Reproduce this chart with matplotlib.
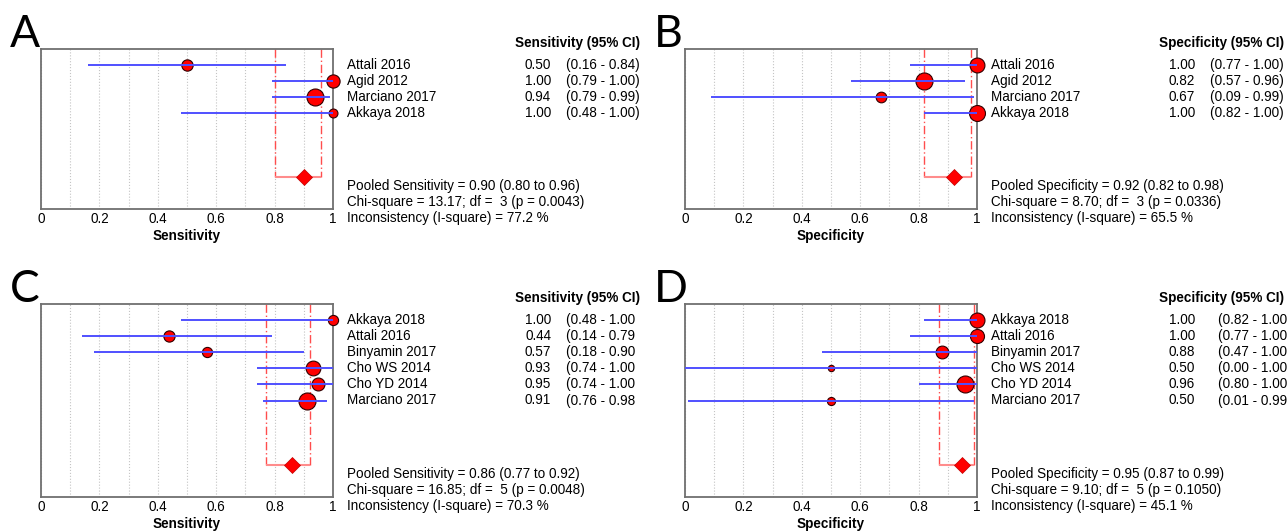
import numpy as np
import matplotlib
matplotlib.use('Agg')
import matplotlib.pyplot as plt
from matplotlib.transforms import Bbox, TransformedBbox

plt.rcParams['font.family'] = 'Liberation Sans'

W, H = 1287, 531

# A: sensitivity, B: specificity (4 studies)
ab_studies = ['Attali 2016', 'Agid 2012', 'Marciano 2017', 'Akkaya 2018']
a_est = [0.50, 1.00, 0.94, 1.00]
a_lo = [0.16, 0.79, 0.79, 0.48]
a_hi = [0.84, 1.00, 0.99, 1.00]
a_weight = [19.1, 26.0, 43.0, 11.9]
a_pooled = [0.90, 0.80, 0.96]
a_stats = ['13.17', 3, '0.0043', '77.2']

b_est = [1.00, 0.82, 0.67, 1.00]
b_lo = [0.77, 0.57, 0.09, 0.82]
b_hi = [1.00, 0.96, 0.99, 1.00]
b_weight = [25.2, 32.9, 12.9, 29.0]
b_pooled = [0.92, 0.82, 0.98]
b_stats = ['8.70', 3, '0.0336', '65.5']

# C: sensitivity, D: specificity (6 studies)
cd_studies = ['Akkaya 2018', 'Attali 2016', 'Binyamin 2017', 'Cho WS 2014',
              'Cho YD 2014', 'Marciano 2017']
c_est = [1.00, 0.44, 0.57, 0.93, 0.95, 0.91]
c_lo = [0.48, 0.14, 0.18, 0.74, 0.74, 0.76]
c_hi = [1.00, 0.79, 0.90, 1.00, 1.00, 0.98]
c_weight = [10.3, 12.5, 10.3, 21.6, 16.6, 28.7]
c_pooled = [0.86, 0.77, 0.92]
c_stats = ['16.85', 5, '0.0048', '70.3']

d_est = [1.00, 1.00, 0.88, 0.50, 0.96, 0.50]
d_lo = [0.82, 0.77, 0.47, 0.00, 0.80, 0.01]
d_hi = [1.00, 1.00, 1.00, 1.00, 1.00, 0.99]
d_weight = [22.8, 20.1, 16.7, 4.1, 29.5, 6.7]
d_pooled = [0.95, 0.87, 0.99]
d_stats = ['9.10', 5, '0.1050', '45.1']

FS = 9.75


def draw_panel(fig, rect, letter, measure, studies, est, lo, hi, weight,
               pooled, stats, shift, clip_px=None):
    left, top, right, bottom = rect
    ax = fig.add_axes([left / W, 1 - bottom / H, (right - left) / W,
                       (bottom - top) / H])
    n = len(studies)
    ypos = np.arange(1, n + 1)
    axw = right - left

    # study points, then CI lines on top
    wmax = max(weight)
    for y, e, w in zip(ypos, est, weight):
        d = 17 * np.sqrt(w / wmax) * 72 / 100
        ax.plot(e, y, 'o', ms=d, mfc='red', mec='#300000', mew=0.8,
                clip_on=False, zorder=3)
    ax.hlines(ypos, lo, hi, colors='#5050ff', lw=1.4, zorder=4, clip_on=False)

    # pooled estimate
    yp = n + 4
    ax.vlines([pooled[1], pooled[2]], 0, yp, colors='#ff4d4d', lw=1,
              linestyles=(0, (6, 2, 1, 2)), zorder=2)
    ax.hlines(yp, pooled[1], pooled[2], colors='#ff8c8c', lw=1.5, zorder=2)
    ax.plot(pooled[0], yp, 'D', ms=8, mfc='red', mec='#c00000', mew=0.5,
            zorder=5)

    ax.set_xlim(0, 1)
    ax.set_ylim(n + 6, 0)
    ax.set_yticks([])
    ax.set_xticks([0, 0.2, 0.4, 0.6, 0.8, 1])
    ax.set_xticklabels(['0', '0.2', '0.4', '0.6', '0.8', '1'])
    ax.set_xticks(np.arange(1, 10) / 10, minor=True)
    ax.tick_params(which='both', length=0, pad=2, labelsize=FS)
    ax.grid(True, which='both', axis='x', ls=':', color='#c4c4c4', lw=0.8)
    ax.set_axisbelow(True)
    for s in ax.spines.values():
        s.set_color('#707070')
        s.set_linewidth(1.3)
    ax.set_xlabel(measure, fontweight='bold', fontsize=FS, labelpad=2)

    trans = ax.get_yaxis_transform()
    xn = 1 + 14 / axw
    xv = 1 + 218 / axw
    xc = 1 + (233 + shift) / axw
    xh = 1 + 307 / axw
    ax.text(xh, -0.4, measure + ' (95% CI)', transform=trans, ha='right',
            va='center', fontsize=FS, fontweight='bold', clip_on=False)
    for y, name, e, l, h in zip(ypos, studies, est, lo, hi):
        ax.text(xn, y, name, transform=trans, ha='left', va='center',
                fontsize=FS, clip_on=False)
        ax.text(xv, y, f'{e:.2f}', transform=trans, ha='right', va='center',
                fontsize=FS, clip_on=False)
        t = ax.text(xc, y, f'({l:.2f} - {h:.2f})', transform=trans,
                    ha='left', va='center', fontsize=FS, clip_on=False)
        if clip_px is not None:
            # the source image was cropped just before the closing bracket
            t.set_clip_on(True)
            t.set_clip_box(TransformedBbox(
                Bbox.from_extents(0, 0, clip_px / W, 1), fig.transFigure))
    summary = [f'Pooled {measure} = {pooled[0]:.2f} ({pooled[1]:.2f} to {pooled[2]:.2f})',
               f'Chi-square = {stats[0]}; df = {stats[1]:2d} (p = {stats[2]})',
               f'Inconsistency (I-square) = {stats[3]} %']
    for k, line in enumerate(summary):
        ax.text(xn, n + 4.55 + k * 1.02, line, transform=trans, ha='left',
                va='center', fontsize=FS, clip_on=False)

    fig.text((left - 31) / W, 1 - (top - 2) / H, letter, family='Lato',
             fontsize=32, ha='left', va='baseline')
    return ax


def main():
    fig = plt.figure(figsize=(W / 100, H / 100), dpi=100)
    draw_panel(fig, (41, 49, 333, 209), 'A', 'Sensitivity', ab_studies,
               a_est, a_lo, a_hi, a_weight, a_pooled, a_stats, 0)
    draw_panel(fig, (685, 49, 977, 209), 'B', 'Specificity', ab_studies,
               b_est, b_lo, b_hi, b_weight, b_pooled, b_stats, 0)
    draw_panel(fig, (41, 304, 333, 497), 'C', 'Sensitivity', cd_studies,
               c_est, c_lo, c_hi, c_weight, c_pooled, c_stats, 0, clip_px=635)
    draw_panel(fig, (685, 304, 977, 497), 'D', 'Specificity', cd_studies,
               d_est, d_lo, d_hi, d_weight, d_pooled, d_stats, 8)
    fig.savefig('out.png', dpi=100)


if __name__ == '__main__':
    main()
